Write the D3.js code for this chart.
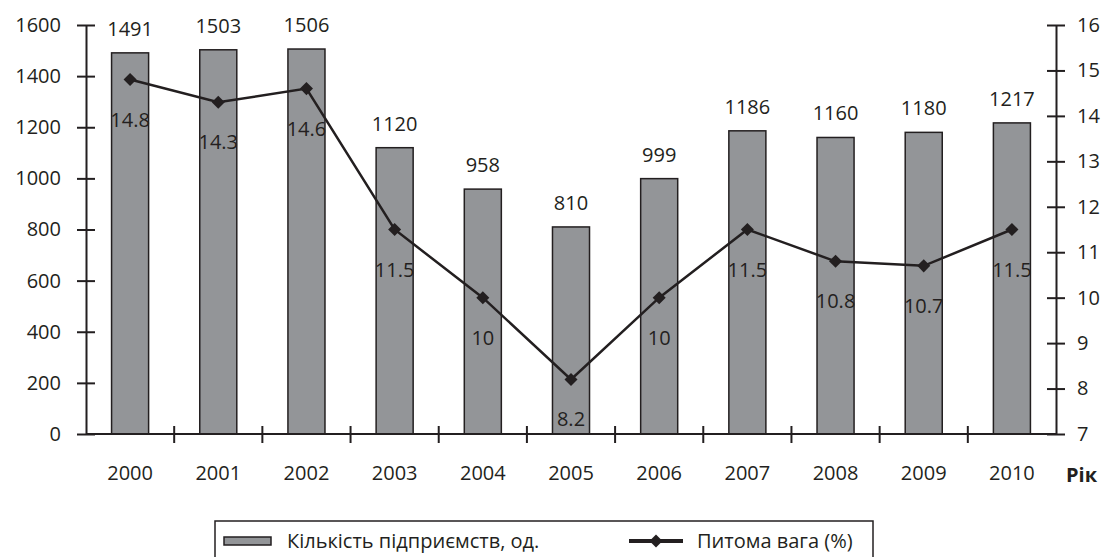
<!DOCTYPE html>
<html><head><meta charset="utf-8">
<script src="https://cdn.jsdelivr.net/npm/d3@7"></script>
<style>body{margin:0;background:#fff}svg{display:block}text{font-family:"Open Sans",sans-serif;fill:#231f20}</style>
</head><body>
<svg id="chart" width="1102" height="557"></svg>
<script>
const years = ["2000","2001","2002","2003","2004","2005","2006","2007","2008","2009","2010"];
const enterprises = [1491,1503,1506,1120,958,810,999,1186,1160,1180,1217];
const share = [14.8,14.3,14.6,11.5,10,8.2,10,11.5,10.8,10.7,11.5];
const leftTicks = [0,200,400,600,800,1000,1200,1400,1600];
const rightTicks = [7,8,9,10,11,12,13,14,15,16];
const legendLabels = ["Кількість підприємств, од.","Питома вага (%)"];
const xAxisTitle = "Рік";

const svg = d3.select("#chart");
const ink = "#231f20", barFill = "#939598";
const L = 86, R = 1056, T = 25, B = 434;
const FS = 20;

const x = d3.scaleBand().domain(years).range([L, R]).paddingInner(0).paddingOuter(0);
const yL = d3.scaleLinear().domain([0,1600]).range([B, T]);
const yR = d3.scaleLinear().domain([7,16]).range([B, T]);
const bw = x.bandwidth() * 0.42;

// bars
svg.append("g").selectAll("rect").data(enterprises).join("rect")
  .attr("x", (d,i) => x(years[i]) + x.bandwidth()/2 - bw/2)
  .attr("y", d => yL(d))
  .attr("width", bw)
  .attr("height", d => yL(0) - yL(d))
  .attr("fill", barFill).attr("stroke", ink).attr("stroke-width", 1.5);

// bar labels
svg.append("g").selectAll("text").data(enterprises).join("text")
  .attr("x", (d,i) => x(years[i]) + x.bandwidth()/2)
  .attr("y", d => yL(d) - 17)
  .attr("text-anchor", "middle").attr("font-size", FS)
  .text(d => d);

// left axis
const gl = svg.append("g").attr("transform", `translate(${L},0)`)
  .call(d3.axisLeft(yL).tickValues(leftTicks).tickFormat(d3.format("d")).tickSize(9).tickPadding(16).tickSizeOuter(0));
gl.select(".domain").attr("stroke", ink).attr("stroke-width", 2);
gl.selectAll(".tick line").attr("x1", 9).attr("x2", -9).attr("stroke", ink).attr("stroke-width", 2);
gl.selectAll(".tick text").attr("font-size", FS).attr("font-family", "Open Sans").attr("fill", ink);

// right axis
const gr = svg.append("g").attr("transform", `translate(${R},0)`)
  .call(d3.axisRight(yR).tickValues(rightTicks).tickSize(9).tickPadding(12).tickSizeOuter(0));
gr.select(".domain").attr("stroke", ink).attr("stroke-width", 2);
gr.selectAll(".tick line").attr("x1", -9).attr("x2", 9).attr("stroke", ink).attr("stroke-width", 2);
gr.selectAll(".tick text").attr("font-size", FS).attr("font-family", "Open Sans").attr("fill", ink);

// bottom axis
const gb = svg.append("g").attr("transform", `translate(0,${B})`)
  .call(d3.axisBottom(x).tickSize(0).tickPadding(32));
gb.select(".domain").attr("stroke", ink).attr("stroke-width", 2).attr("d", `M${L},0H${R}`);
gb.selectAll(".tick text").attr("font-size", FS).attr("font-family", "Open Sans").attr("fill", ink);
// category boundary ticks
gb.append("g").selectAll("line").data(years.slice(1)).join("line")
  .attr("x1", d => x(d)).attr("x2", d => x(d))
  .attr("y1", -8).attr("y2", 9).attr("stroke", ink).attr("stroke-width", 2);

svg.append("text").attr("x", 1066).attr("y", 482)
  .attr("font-size", FS).attr("font-weight", "bold").text(xAxisTitle);

// line
const cx = (d,i) => x(years[i]) + x.bandwidth()/2;
const line = d3.line().x(cx).y(d => yR(d));
svg.append("path").datum(share).attr("d", line)
  .attr("fill", "none").attr("stroke", ink).attr("stroke-width", 2.5);
const diamond = d3.symbol().type(d3.symbolSquare).size(85);
svg.append("g").selectAll("path").data(share).join("path")
  .attr("d", diamond)
  .attr("transform", (d,i) => `translate(${cx(d,i)},${yR(d)}) rotate(45)`)
  .attr("fill", ink);
svg.append("g").selectAll("text").data(share).join("text")
  .attr("x", (d,i) => cx(d,i))
  .attr("y", d => yR(d) + 47)
  .attr("text-anchor", "middle").attr("font-size", FS)
  .text(d => d);

// legend
const lg = svg.append("g");
lg.append("rect").attr("x", 215).attr("y", 521).attr("width", 658).attr("height", 60)
  .attr("fill", "none").attr("stroke", ink).attr("stroke-width", 1.5);
lg.append("rect").attr("x", 224).attr("y", 537).attr("width", 47).attr("height", 8)
  .attr("fill", barFill).attr("stroke", ink).attr("stroke-width", 1.5);
lg.append("text").attr("x", 287).attr("y", 548).attr("font-size", FS).text(legendLabels[0]);
lg.append("line").attr("x1", 629).attr("x2", 683).attr("y1", 541).attr("y2", 541)
  .attr("stroke", ink).attr("stroke-width", 4);
lg.append("path").attr("d", diamond).attr("transform", "translate(656,541) rotate(45)").attr("fill", ink);
lg.append("text").attr("x", 697).attr("y", 548).attr("font-size", FS).text(legendLabels[1]);
</script>
</body></html>
